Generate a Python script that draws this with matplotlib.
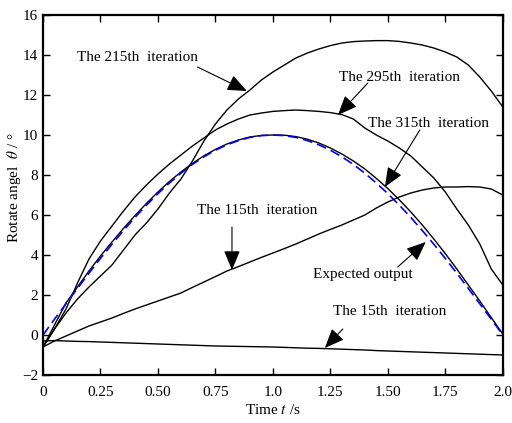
import numpy as np
import matplotlib.pyplot as plt

plt.rcParams['font.family'] = ['Liberation Serif', 'DejaVu Serif']
plt.rcParams['mathtext.fontset'] = 'stix'

# sample times, every 0.05 s
time = np.linspace(0, 2.0, 41)

expected = [0.0, 0.79, 1.56, 2.33, 3.09, 3.83, 4.54, 5.22, 5.88, 6.49, 7.07,
            7.6, 8.09, 8.53, 8.91, 9.24, 9.51, 9.72, 9.88, 9.97, 10.0,
            9.97, 9.88, 9.72, 9.51, 9.24, 8.91, 8.53, 8.09, 7.6, 7.07,
            6.49, 5.88, 5.22, 4.54, 3.83, 3.09, 2.33, 1.56, 0.79, 0.0]
it315 = [-0.6, 0.5, 1.6, 2.4, 3.2, 3.95, 4.65, 5.33, 5.97, 6.58, 7.15,
         7.68, 8.15, 8.58, 8.96, 9.28, 9.55, 9.75, 9.9, 9.98, 10.0,
         9.99, 9.92, 9.79, 9.6, 9.35, 9.05, 8.7, 8.3, 7.83, 7.32,
         6.76, 6.15, 5.5, 4.8, 4.07, 3.3, 2.5, 1.7, 0.87, 0.05]
it295 = [-0.6, 0.3, 1.3, 2.6, 3.8, 4.7, 5.45, 6.2, 6.9, 7.5, 8.05,
         8.55, 9.0, 9.45, 9.85, 10.25, 10.55, 10.8, 11.0, 11.1, 11.18,
         11.22, 11.25, 11.22, 11.18, 11.12, 11.02, 10.8, 10.35, 10.0, 9.7,
         9.35, 8.95, 8.4, 7.85, 7.15, 6.3, 5.5, 4.55, 3.3, 2.5]
it215 = [-0.6, 0.3, 1.1, 1.8, 2.4, 2.95, 3.5, 4.25, 5.0, 5.6, 6.3,
         7.1, 7.8, 8.7, 9.7, 10.55, 11.25, 11.8, 12.25, 12.75, 13.15,
         13.5, 13.85, 14.1, 14.3, 14.47, 14.6, 14.67, 14.7, 14.72, 14.72,
         14.68, 14.6, 14.5, 14.35, 14.15, 13.9, 13.5, 12.9, 12.2, 11.4]
it115 = [-0.6, -0.3, -0.05, 0.2, 0.45, 0.65, 0.85, 1.08, 1.3, 1.5, 1.7,
         1.9, 2.1, 2.38, 2.65, 2.92, 3.2, 3.42, 3.65, 3.88, 4.1,
         4.32, 4.55, 4.8, 5.05, 5.28, 5.5, 5.75, 6.0, 6.35, 6.65,
         6.9, 7.1, 7.25, 7.35, 7.4, 7.4, 7.42, 7.4, 7.3, 7.0]
it15 = [-0.3, -0.28, -0.3, -0.32, -0.33, -0.35, -0.37, -0.39, -0.41, -0.43, -0.45,
        -0.47, -0.49, -0.51, -0.53, -0.55, -0.56, -0.57, -0.58, -0.59, -0.6,
        -0.62, -0.64, -0.66, -0.67, -0.69, -0.71, -0.73, -0.75, -0.78, -0.8,
        -0.82, -0.84, -0.86, -0.88, -0.9, -0.92, -0.94, -0.96, -0.98, -1.0]

xticks = [0, 0.25, 0.5, 0.75, 1.0, 1.25, 1.5, 1.75, 2.0]
xticklabels = ['0', '0.25', '0.50', '0.75', '1.0', '1.25', '1.50', '1.75', '2.0']

fig = plt.figure(figsize=(5.12, 4.23), dpi=100)
ax = fig.add_axes([0.084, 0.1135, 0.898, 0.851])

for series in [it15, it115, it215, it295, it315]:
    ax.plot(time, series, color='k', linewidth=1.0)
ax.plot(time, expected, color='blue', linewidth=1.2, linestyle=(0, (6, 3)))

# labels: (text, text pos, arrow tail, arrow tip)
notes = [
    ('The 215th  iteration', (0.148, 13.9), (0.672, 13.4), (0.887, 12.2)),
    ('The 295th  iteration', (1.287, 12.9), (1.413, 12.6), (1.283, 11.0)),
    ('The 315th  iteration', (1.413, 10.6), (1.639, 10.25), (1.487, 7.4)),
    ('The 115th  iteration', (0.670, 6.25), (0.822, 5.4), (0.822, 3.25)),
    ('Expected output', (1.174, 3.0), (1.543, 3.4), (1.665, 4.65)),
    ('The 15th  iteration', (1.261, 1.15), (1.304, 0.3), (1.226, -0.65)),
]
for label, tpos, tail, tip in notes:
    ax.text(tpos[0], tpos[1], label, fontsize=11, ha='left', va='center')
    ax.annotate('', xy=tip, xytext=tail,
                arrowprops=dict(arrowstyle='-|>,head_length=0.6,head_width=0.25',
                                color='k', lw=0.8, mutation_scale=20,
                                shrinkA=0, shrinkB=0))

ax.set_xlim(0, 2.0)
ax.set_ylim(-2, 16)
ax.set_xticks(xticks)
ax.set_xticklabels(xticklabels)
ax.set_yticks(np.arange(-2, 17, 2))
ax.tick_params(direction='in', top=True, right=True, length=5, width=1,
               labelsize=11)
ax.tick_params(axis='x', pad=8)
for sp in ax.spines.values():
    sp.set_linewidth(1.6)

ax.set_xlabel('Time $t$ /s', fontsize=11, labelpad=3)
ax.set_ylabel('Rotate angel  $\\theta$ / °', fontsize=11)
ax.yaxis.set_label_coords(-0.044, 0.52)

plt.savefig('out.png', dpi=100)
